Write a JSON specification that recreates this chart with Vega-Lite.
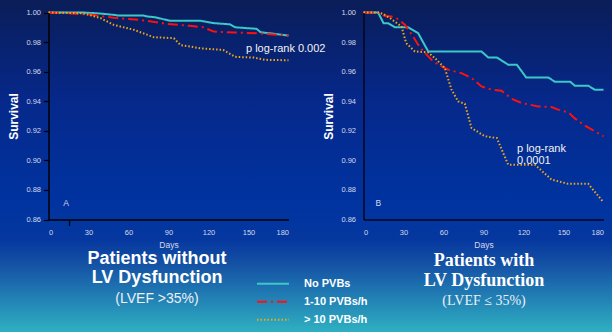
{
  "$schema": "https://vega.github.io/schema/vega-lite/v6.json",
  "width": 612,
  "height": 332,
  "padding": 0,
  "autosize": {"type": "none"},
  "background": "#0a2a80",
  "config": {"view": {"stroke": null}, "font": "Liberation Sans"},
  "datasets": {
    "curvesA": [
      {"group": "No PVBs", "day": 0, "survival": 1.0},
      {"group": "No PVBs", "day": 26, "survival": 1.0},
      {"group": "No PVBs", "day": 39, "survival": 0.9993},
      {"group": "No PVBs", "day": 49, "survival": 0.9984},
      {"group": "No PVBs", "day": 52, "survival": 0.998},
      {"group": "No PVBs", "day": 71, "survival": 0.998},
      {"group": "No PVBs", "day": 74, "survival": 0.9973},
      {"group": "No PVBs", "day": 80, "survival": 0.9968},
      {"group": "No PVBs", "day": 91, "survival": 0.9944},
      {"group": "No PVBs", "day": 114, "survival": 0.9944},
      {"group": "No PVBs", "day": 124, "survival": 0.9928},
      {"group": "No PVBs", "day": 136, "survival": 0.992},
      {"group": "No PVBs", "day": 140, "survival": 0.990},
      {"group": "No PVBs", "day": 149, "survival": 0.9894},
      {"group": "No PVBs", "day": 156, "survival": 0.989},
      {"group": "No PVBs", "day": 159, "survival": 0.9867},
      {"group": "No PVBs", "day": 180, "survival": 0.9844},
      {"group": "1-10 PVBs/h", "day": 0, "survival": 1.0},
      {"group": "1-10 PVBs/h", "day": 14, "survival": 0.9995},
      {"group": "1-10 PVBs/h", "day": 31, "survival": 0.9986},
      {"group": "1-10 PVBs/h", "day": 51, "survival": 0.9962},
      {"group": "1-10 PVBs/h", "day": 69, "survival": 0.995},
      {"group": "1-10 PVBs/h", "day": 89, "survival": 0.9923},
      {"group": "1-10 PVBs/h", "day": 106, "survival": 0.991},
      {"group": "1-10 PVBs/h", "day": 116, "survival": 0.990},
      {"group": "1-10 PVBs/h", "day": 124, "survival": 0.9871},
      {"group": "1-10 PVBs/h", "day": 139, "survival": 0.9865},
      {"group": "1-10 PVBs/h", "day": 156, "survival": 0.986},
      {"group": "1-10 PVBs/h", "day": 180, "survival": 0.9844},
      {"group": "> 10 PVBs/h", "day": 0, "survival": 1.0},
      {"group": "> 10 PVBs/h", "day": 26, "survival": 0.9995},
      {"group": "> 10 PVBs/h", "day": 39, "survival": 0.9962},
      {"group": "> 10 PVBs/h", "day": 49, "survival": 0.9916},
      {"group": "> 10 PVBs/h", "day": 64, "survival": 0.9883},
      {"group": "> 10 PVBs/h", "day": 79, "survival": 0.9833},
      {"group": "> 10 PVBs/h", "day": 94, "survival": 0.9826},
      {"group": "> 10 PVBs/h", "day": 99, "survival": 0.978},
      {"group": "> 10 PVBs/h", "day": 114, "survival": 0.9758},
      {"group": "> 10 PVBs/h", "day": 131, "survival": 0.9747},
      {"group": "> 10 PVBs/h", "day": 140, "survival": 0.970},
      {"group": "> 10 PVBs/h", "day": 154, "survival": 0.9695},
      {"group": "> 10 PVBs/h", "day": 162, "survival": 0.968},
      {"group": "> 10 PVBs/h", "day": 180, "survival": 0.9677}
    ],
    "curvesB": [
      {"group": "No PVBs", "day": 0, "survival": 1.0},
      {"group": "No PVBs", "day": 11, "survival": 1.0},
      {"group": "No PVBs", "day": 15, "survival": 0.9928},
      {"group": "No PVBs", "day": 18.5, "survival": 0.9928},
      {"group": "No PVBs", "day": 23.5, "survival": 0.990},
      {"group": "No PVBs", "day": 33.5, "survival": 0.990},
      {"group": "No PVBs", "day": 41, "survival": 0.986},
      {"group": "No PVBs", "day": 48.5, "survival": 0.9737},
      {"group": "No PVBs", "day": 88.5, "survival": 0.9737},
      {"group": "No PVBs", "day": 93.5, "survival": 0.9696},
      {"group": "No PVBs", "day": 100, "survival": 0.9696},
      {"group": "No PVBs", "day": 108.5, "survival": 0.9647},
      {"group": "No PVBs", "day": 115, "survival": 0.9647},
      {"group": "No PVBs", "day": 122, "survival": 0.9561},
      {"group": "No PVBs", "day": 138.5, "survival": 0.9561},
      {"group": "No PVBs", "day": 143.5, "survival": 0.9532},
      {"group": "No PVBs", "day": 155, "survival": 0.9532},
      {"group": "No PVBs", "day": 158.5, "survival": 0.9505},
      {"group": "No PVBs", "day": 168.5, "survival": 0.9505},
      {"group": "No PVBs", "day": 173.5, "survival": 0.9478},
      {"group": "No PVBs", "day": 180, "survival": 0.9478},
      {"group": "1-10 PVBs/h", "day": 0, "survival": 1.0},
      {"group": "1-10 PVBs/h", "day": 11, "survival": 1.0},
      {"group": "1-10 PVBs/h", "day": 16, "survival": 0.9977},
      {"group": "1-10 PVBs/h", "day": 21, "survival": 0.9973},
      {"group": "1-10 PVBs/h", "day": 26, "survival": 0.9955},
      {"group": "1-10 PVBs/h", "day": 31, "survival": 0.9917},
      {"group": "1-10 PVBs/h", "day": 36, "survival": 0.9854},
      {"group": "1-10 PVBs/h", "day": 41, "survival": 0.9782},
      {"group": "1-10 PVBs/h", "day": 45, "survival": 0.9737},
      {"group": "1-10 PVBs/h", "day": 51, "survival": 0.968},
      {"group": "1-10 PVBs/h", "day": 56, "survival": 0.9647},
      {"group": "1-10 PVBs/h", "day": 63.5, "survival": 0.9613},
      {"group": "1-10 PVBs/h", "day": 73.5, "survival": 0.959},
      {"group": "1-10 PVBs/h", "day": 81, "survival": 0.9557},
      {"group": "1-10 PVBs/h", "day": 88.5, "survival": 0.95},
      {"group": "1-10 PVBs/h", "day": 96, "survival": 0.9478},
      {"group": "1-10 PVBs/h", "day": 103.5, "survival": 0.9471},
      {"group": "1-10 PVBs/h", "day": 111, "survival": 0.9417},
      {"group": "1-10 PVBs/h", "day": 118.5, "survival": 0.9388},
      {"group": "1-10 PVBs/h", "day": 131, "survival": 0.9365},
      {"group": "1-10 PVBs/h", "day": 141, "survival": 0.9361},
      {"group": "1-10 PVBs/h", "day": 146, "survival": 0.9343},
      {"group": "1-10 PVBs/h", "day": 153.5, "survival": 0.9325},
      {"group": "1-10 PVBs/h", "day": 158.5, "survival": 0.9284},
      {"group": "1-10 PVBs/h", "day": 166, "survival": 0.9235},
      {"group": "1-10 PVBs/h", "day": 173.5, "survival": 0.9196},
      {"group": "1-10 PVBs/h", "day": 180, "survival": 0.9163},
      {"group": "> 10 PVBs/h", "day": 0, "survival": 1.0},
      {"group": "> 10 PVBs/h", "day": 12, "survival": 1.0},
      {"group": "> 10 PVBs/h", "day": 16, "survival": 0.9984},
      {"group": "> 10 PVBs/h", "day": 21, "survival": 0.9955},
      {"group": "> 10 PVBs/h", "day": 28.5, "survival": 0.9905},
      {"group": "> 10 PVBs/h", "day": 32, "survival": 0.9793},
      {"group": "> 10 PVBs/h", "day": 38.5, "survival": 0.9737},
      {"group": "> 10 PVBs/h", "day": 48.5, "survival": 0.973},
      {"group": "> 10 PVBs/h", "day": 53.5, "survival": 0.9692},
      {"group": "> 10 PVBs/h", "day": 61, "survival": 0.9624},
      {"group": "> 10 PVBs/h", "day": 66, "survival": 0.9478},
      {"group": "> 10 PVBs/h", "day": 71, "survival": 0.9399},
      {"group": "> 10 PVBs/h", "day": 76, "survival": 0.9383},
      {"group": "> 10 PVBs/h", "day": 81, "survival": 0.9219},
      {"group": "> 10 PVBs/h", "day": 91, "survival": 0.9163},
      {"group": "> 10 PVBs/h", "day": 100, "survival": 0.9151},
      {"group": "> 10 PVBs/h", "day": 108.5, "survival": 0.8971},
      {"group": "> 10 PVBs/h", "day": 128.5, "survival": 0.8971},
      {"group": "> 10 PVBs/h", "day": 141, "survival": 0.887},
      {"group": "> 10 PVBs/h", "day": 153.5, "survival": 0.8841},
      {"group": "> 10 PVBs/h", "day": 168.5, "survival": 0.8841},
      {"group": "> 10 PVBs/h", "day": 180, "survival": 0.8717}
    ]
  },
  "layer": [
    {
      "data": {"values": [{}]},
      "mark": {
        "type": "rect",
        "strokeWidth": 0,
        "fill": {
          "gradient": "linear",
          "x1": 0, "y1": 0, "x2": 0, "y2": 1,
          "stops": [
            {"offset": 0, "color": "#0a1d58"},
            {"offset": 0.3, "color": "#06288a"},
            {"offset": 0.6, "color": "#0033a0"},
            {"offset": 0.72, "color": "#05379f"},
            {"offset": 0.8, "color": "#1553a5"},
            {"offset": 0.88, "color": "#1f78b2"},
            {"offset": 1, "color": "#2fb0c2"}
          ]
        }
      },
      "encoding": {}
    },
    {
      "data": {"name": "curvesA"},
      "layer": [
        {
          "mark": {"type": "line", "strokeWidth": 2},
          "encoding": {
            "x": {
              "field": "day", "type": "quantitative",
              "scale": {"domain": [0, 180], "range": [48.5, 288.5], "nice": false, "zero": false},
              "axis": {
                "orient": "bottom", "offset": -112.5, "zindex": 1, "grid": false,
                "values": [0, 15, 30, 60, 90, 120, 150, 180],
                "labelExpr": "datum.value == 15 ? '' : datum.label",
                "domainColor": "#000000", "domainWidth": 1.5,
                "tickColor": "#000000", "tickWidth": 1.2, "tickSize": 6,
                "tickOpacity": {"condition": {"test": "datum.value == 15", "value": 1}, "value": 0},
                "labelPadding": 3, "labelFontSize": 7.5, "labelColor": "#d5d9ea",
                "title": "Days", "titleFontSize": 8.5, "titleFontWeight": "normal", "titleColor": "#d5d9ea", "titlePadding": 4
              }
            },
            "y": {
              "field": "survival", "type": "quantitative",
              "scale": {"domain": [0.86, 1.0], "range": [219.5, 12.5], "nice": false, "zero": false},
              "axis": {
                "orient": "left", "offset": -48.5, "zindex": 1, "grid": false,
                "values": [0.86, 0.87, 0.88, 0.89, 0.9, 0.91, 0.92, 0.93, 0.94, 0.95, 0.96, 0.97, 0.98, 0.99, 1.0],
                "labelExpr": "round(datum.value * 100) % 2 == 0 ? format(datum.value, '.2f') : ''",
                "domainColor": "#000000", "domainWidth": 1.5,
                "tickColor": "#000000", "tickWidth": 1.2, "tickSize": 5,
                "labelPadding": 3, "labelFontSize": 7.5, "labelColor": "#d5d9ea",
                "title": "Survival", "titleFontSize": 12, "titleFontWeight": "bold", "titleColor": "#ffffff", "titlePadding": 5
              }
            },
            "color": {
              "field": "group", "type": "nominal",
              "scale": {"domain": ["No PVBs", "1-10 PVBs/h", "> 10 PVBs/h"], "range": ["#3cc8c8", "#ff1010", "#f0a818"]},
              "legend": {"orient": "none", "legendX": 256, "legendY": 276, "title": null, "symbolType": "stroke", "symbolSize": 1024, "symbolStrokeWidth": 2, "labelFont": "Liberation Sans", "labelFontWeight": "bold", "labelFontSize": 11, "labelColor": "#ffffff", "labelOffset": 14, "clipHeight": 15.5, "rowPadding": 2}
            },
            "strokeDash": {
              "field": "group", "type": "nominal",
              "scale": {"domain": ["No PVBs", "1-10 PVBs/h", "> 10 PVBs/h"], "range": [[1, 0], [10, 4, 2, 4], [1.5, 2]]},
              "legend": {"orient": "none", "legendX": 256, "legendY": 276, "title": null, "symbolType": "stroke", "symbolSize": 1024, "symbolStrokeWidth": 2, "labelFont": "Liberation Sans", "labelFontWeight": "bold", "labelFontSize": 11, "labelColor": "#ffffff", "labelOffset": 14, "clipHeight": 15.5, "rowPadding": 2}
            }
          }
        },
        {
          "data": {"values": [{"label": "p log-rank 0.002"}]},
          "mark": {"type": "text", "align": "left", "baseline": "middle", "fontSize": 11, "color": "#f2f2f2"},
          "encoding": {
            "x": {"datum": 148.1, "type": "quantitative"},
            "y": {"datum": 0.9755, "type": "quantitative"},
            "text": {"field": "label"}
          }
        },
        {
          "data": {"values": [{"label": "A"}]},
          "mark": {"type": "text", "align": "center", "baseline": "middle", "fontSize": 8.5, "color": "#d5d9ea"},
          "encoding": {
            "x": {"datum": 13.1, "type": "quantitative"},
            "y": {"datum": 0.871, "type": "quantitative"},
            "text": {"field": "label"}
          }
        },
        {
          "data": {"values": [{"label": "Patients without"}]},
          "mark": {"type": "text", "align": "center", "baseline": "middle", "fontSize": 18, "fontWeight": "bold", "color": "#ffffff"},
          "encoding": {
            "x": {"datum": 81.4, "type": "quantitative"},
            "y": {"datum": 0.83329, "type": "quantitative"},
            "text": {"field": "label"}
          }
        },
        {
          "data": {"values": [{"label": "LV Dysfunction"}]},
          "mark": {"type": "text", "align": "center", "baseline": "middle", "fontSize": 18, "fontWeight": "bold", "color": "#ffffff"},
          "encoding": {
            "x": {"datum": 81.4, "type": "quantitative"},
            "y": {"datum": 0.82043, "type": "quantitative"},
            "text": {"field": "label"}
          }
        },
        {
          "data": {"values": [{"label": "(LVEF >35%)"}]},
          "mark": {"type": "text", "align": "center", "baseline": "middle", "fontSize": 14, "color": "#eef0f6"},
          "encoding": {
            "x": {"datum": 81.4, "type": "quantitative"},
            "y": {"datum": 0.80623, "type": "quantitative"},
            "text": {"field": "label"}
          }
        }
      ]
    },
    {
      "data": {"name": "curvesB"},
      "layer": [
        {
          "mark": {"type": "line", "strokeWidth": 2},
          "encoding": {
            "x": {
              "field": "day", "type": "quantitative",
              "scale": {"domain": [0, 180], "range": [363.5, 603.5], "nice": false, "zero": false},
              "axis": {
                "orient": "bottom", "offset": -112.5, "zindex": 1, "grid": false,
                "values": [0, 30, 60, 90, 120, 150, 180],
                "domainColor": "#05051e", "domainWidth": 1.5,
                "tickSize": 6, "tickOpacity": 0,
                "labelPadding": 3, "labelFontSize": 7.5, "labelColor": "#d5d9ea",
                "title": "Days", "titleFontSize": 8.5, "titleFontWeight": "normal", "titleColor": "#d5d9ea", "titlePadding": 4
              }
            },
            "y": {
              "field": "survival", "type": "quantitative",
              "scale": {"domain": [0.86, 1.0], "range": [219.5, 12.5], "nice": false, "zero": false},
              "axis": {
                "orient": "left", "offset": -363.5, "zindex": 1, "grid": false,
                "values": [0.86, 0.88, 0.9, 0.92, 0.94, 0.96, 0.98, 1.0],
                "format": ".2f",
                "domainColor": "#05051e", "domainWidth": 1.5,
                "tickSize": 5, "tickOpacity": 0,
                "labelPadding": 3, "labelFontSize": 7.5, "labelColor": "#d5d9ea",
                "title": "Survival", "titleFontSize": 12, "titleFontWeight": "bold", "titleColor": "#ffffff", "titlePadding": 5
              }
            },
            "color": {
              "field": "group", "type": "nominal",
              "scale": {"domain": ["No PVBs", "1-10 PVBs/h", "> 10 PVBs/h"], "range": ["#3cc8c8", "#ff1010", "#f0a818"]},
              "legend": {"orient": "none", "legendX": 256, "legendY": 276, "title": null, "symbolType": "stroke", "symbolSize": 1024, "symbolStrokeWidth": 2, "labelFont": "Liberation Sans", "labelFontWeight": "bold", "labelFontSize": 11, "labelColor": "#ffffff", "labelOffset": 14, "clipHeight": 15.5, "rowPadding": 2}
            },
            "strokeDash": {
              "field": "group", "type": "nominal",
              "scale": {"domain": ["No PVBs", "1-10 PVBs/h", "> 10 PVBs/h"], "range": [[1, 0], [10, 4, 2, 4], [1.5, 2]]},
              "legend": {"orient": "none", "legendX": 256, "legendY": 276, "title": null, "symbolType": "stroke", "symbolSize": 1024, "symbolStrokeWidth": 2, "labelFont": "Liberation Sans", "labelFontWeight": "bold", "labelFontSize": 11, "labelColor": "#ffffff", "labelOffset": 14, "clipHeight": 15.5, "rowPadding": 2}
            }
          }
        },
        {
          "data": {"values": [{"label": "p log-rank"}]},
          "mark": {"type": "text", "align": "left", "baseline": "middle", "fontSize": 11, "color": "#f2f2f2"},
          "encoding": {
            "x": {"datum": 115.1, "type": "quantitative"},
            "y": {"datum": 0.90768, "type": "quantitative"},
            "text": {"field": "label"}
          }
        },
        {
          "data": {"values": [{"label": "0.0001"}]},
          "mark": {"type": "text", "align": "left", "baseline": "middle", "fontSize": 11, "color": "#f2f2f2"},
          "encoding": {
            "x": {"datum": 115.1, "type": "quantitative"},
            "y": {"datum": 0.89957, "type": "quantitative"},
            "text": {"field": "label"}
          }
        },
        {
          "data": {"values": [{"label": "B"}]},
          "mark": {"type": "text", "align": "center", "baseline": "middle", "fontSize": 8.5, "color": "#d5d9ea"},
          "encoding": {
            "x": {"datum": 11.1, "type": "quantitative"},
            "y": {"datum": 0.871, "type": "quantitative"},
            "text": {"field": "label"}
          }
        },
        {
          "data": {"values": [{"label": "Patients with"}]},
          "mark": {"type": "text", "align": "center", "baseline": "middle", "font": "Liberation Serif", "fontSize": 18, "fontWeight": "bold", "color": "#ffffff"},
          "encoding": {
            "x": {"datum": 90.4, "type": "quantitative"},
            "y": {"datum": 0.83214, "type": "quantitative"},
            "text": {"field": "label"}
          }
        },
        {
          "data": {"values": [{"label": "LV Dysfunction"}]},
          "mark": {"type": "text", "align": "center", "baseline": "middle", "font": "Liberation Serif", "fontSize": 18, "fontWeight": "bold", "color": "#ffffff"},
          "encoding": {
            "x": {"datum": 90.4, "type": "quantitative"},
            "y": {"datum": 0.81861, "type": "quantitative"},
            "text": {"field": "label"}
          }
        },
        {
          "data": {"values": [{"label": "(LVEF ≤ 35%)"}]},
          "mark": {"type": "text", "align": "center", "baseline": "middle", "font": "Liberation Serif", "fontSize": 14, "color": "#eef0f6"},
          "encoding": {
            "x": {"datum": 90.4, "type": "quantitative"},
            "y": {"datum": 0.80508, "type": "quantitative"},
            "text": {"field": "label"}
          }
        }
      ]
    }
  ],
  "resolve": {"scale": {"x": "independent", "y": "independent"}}
}
